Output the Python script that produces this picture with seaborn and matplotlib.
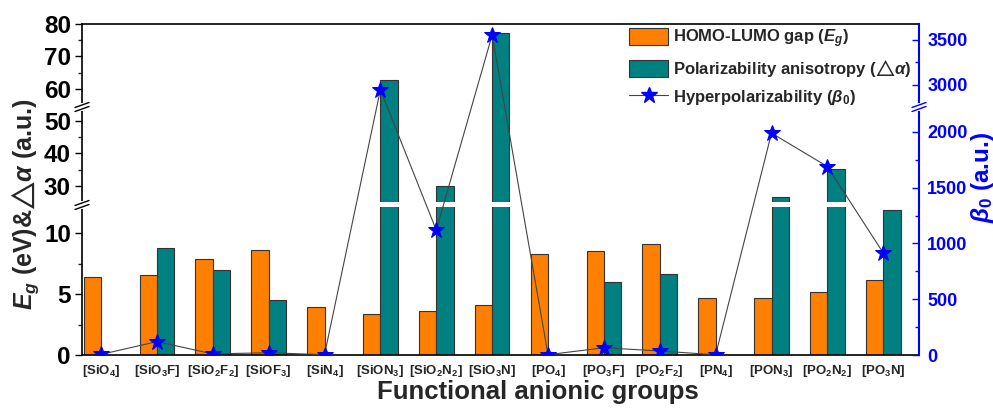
import numpy as np
import pandas as pd
import matplotlib
matplotlib.use('Agg')
import matplotlib.pyplot as plt
from matplotlib.patches import Patch, Rectangle
from matplotlib.lines import Line2D
import seaborn as sns

sns.set_style("ticks")
plt.rcParams['font.family'] = ['Liberation Sans', 'DejaVu Sans']
plt.rcParams['font.weight'] = 'bold'
plt.rcParams['mathtext.fontset'] = 'custom'
plt.rcParams['mathtext.rm'] = 'Liberation Sans:bold'
plt.rcParams['mathtext.it'] = 'Liberation Sans:italic:bold'
plt.rcParams['mathtext.bf'] = 'Liberation Sans:bold'
plt.rcParams['mathtext.fallback'] = 'stixsans'

groups = ['[SiO$_4$]', '[SiO$_3$F]', '[SiO$_2$F$_2$]', '[SiOF$_3$]', '[SiN$_4$]',
          '[SiON$_3$]', '[SiO$_2$N$_2$]', '[SiO$_3$N]', '[PO$_4$]', '[PO$_3$F]',
          '[PO$_2$F$_2$]', '[PN$_4$]', '[PON$_3$]', '[PO$_2$N$_2$]', '[PO$_3$N]']
eg = [6.4, 6.6, 7.9, 8.6, 3.9, 3.4, 3.6, 4.1, 8.25, 8.5, 9.1, 4.7, 4.7, 5.15, 6.15]
dalpha = [np.nan, 8.75, 6.95, 4.5, np.nan, 62.6, 29.8, 77.3, np.nan, 6.0, 6.65,
          np.nan, 26.4, 35.3, 11.85]
beta0 = [5, 120, 10, 20, 3, 2945, 1120, 3555, 3, 65, 36, 2, 1990, 1690, 915]

lab_eg = 'HOMO-LUMO gap ($E_g$)'
lab_da = 'Polarizability anisotropy ($△\\alpha$)'
lab_b = 'Hyperpolarizability ($\\beta_{\\mathit{0}}$)'

orange = '#FF8000'
teal = '#008080'

df = pd.DataFrame({'group': groups * 2,
                   'value': eg + dalpha,
                   'series': [lab_eg] * len(groups) + [lab_da] * len(groups)})


def piecewise(vk, uk):
    vk = np.asarray(vk, float)
    uk = np.asarray(uk, float)

    def make(a, b):
        def f(x):
            x = np.asarray(x, float)
            out = np.interp(x, a, b)
            out = np.where(x < a[0], b[0] + (x - a[0]) * (b[1] - b[0]) / (a[1] - a[0]), out)
            out = np.where(x > a[-1], b[-1] + (x - a[-1]) * (b[-1] - b[-2]) / (a[-1] - a[-2]), out)
            return out
        return f
    return make(vk, uk), make(uk, vk)


# broken axes: bottom / top segments, break is squeezed to nearly nothing
left_fwd, left_inv = piecewise([0, 12.3, 24.15, 80], [0, 150, 150.3, 331])
right_fwd, right_inv = piecewise([0, 2224, 2756, 3678], [0, 248, 248.3, 331])

fig = plt.figure(figsize=(9.93, 4.08), dpi=100)
ax = fig.add_axes([0.0826, 0.1299, 0.8429, 0.8113])

sns.barplot(data=df, x='group', y='value', hue='series', palette=[orange, teal],
            width=0.62, errorbar=None, edgecolor='#333333', linewidth=0.8,
            saturation=1, ax=ax, legend=False)

ax.set_yscale('function', functions=(left_fwd, left_inv))
ax.set_ylim(0, 80)
ax.set_xlim(-0.34, 14.64)
ax.set_yticks([0, 5, 10, 30, 40, 50, 60, 70, 80])
ax.set_yticks([2.5, 7.5, 35, 45, 65, 75], minor=True)
ax.set_yticklabels(['0', '5', '10', '30', '40', '50', '60', '70', '80'])
ax.tick_params(axis='y', which='major', direction='out', length=5, width=1,
               labelsize=17.5, pad=3, colors='black')
ax.tick_params(axis='y', which='minor', direction='out', length=3, width=1)
ax.tick_params(axis='x', length=0, labelsize=9.5, pad=6)
ax.set_xlabel('')
ax.set_ylabel('')
for s in ['left', 'top', 'bottom']:
    ax.spines[s].set_color('black')
    ax.spines[s].set_linewidth(1.2)
ax.spines['right'].set_visible(False)

# white gap through bars at the lower break
ax.add_patch(Rectangle((0, 147.5 / 331), 1, 5 / 331, transform=ax.transAxes,
                       facecolor='white', edgecolor='none', zorder=2))

ax2 = ax.twinx()
sns.lineplot(x=np.arange(len(groups)), y=beta0, ax=ax2, color='#444444',
             linewidth=0.8, marker='*', markersize=12, markerfacecolor='blue',
             markeredgecolor='blue')
ax2.set_yscale('function', functions=(right_fwd, right_inv))
ax2.set_ylim(0, 3678)
ax2.set_yticks([0, 500, 1000, 1500, 2000, 3000, 3500])
ax2.set_yticks([250, 750, 1250, 1750, 3250], minor=True)
ax2.set_yticklabels(['0', '500', '1000', '1500', '2000', '3000', '3500'])
ax2.tick_params(axis='y', which='major', direction='in', length=5, width=1,
                labelsize=13, pad=6, colors='blue')
ax2.tick_params(axis='y', which='minor', direction='in', length=3, width=1, colors='blue')
ax2.set_ylabel('')
for s in ['left', 'top', 'bottom']:
    ax2.spines[s].set_visible(False)
ax2.spines['right'].set_color('blue')
ax2.spines['right'].set_linewidth(1.5)


def brk(a, xf, yf, color):
    dx, dy = 7 / 837, 2.5 / 331
    a.plot([xf, xf], [yf - 2 / 331, yf + 2 / 331], transform=a.transAxes,
           color='white', lw=3, clip_on=False, zorder=6)
    for off in (-2 / 331, 2 / 331):
        a.plot([xf - dx, xf + dx], [yf + off - dy, yf + off + dy], transform=a.transAxes,
               color=color, lw=1, clip_on=False, zorder=7)


brk(ax2, 0, 150 / 331, 'black')
brk(ax2, 0, 248 / 331, 'black')
brk(ax2, 1, 248 / 331, 'blue')

handles = [Patch(facecolor=orange, edgecolor='#333333', linewidth=0.8),
           Patch(facecolor=teal, edgecolor='#333333', linewidth=0.8),
           Line2D([], [], color='#444444', lw=0.8, marker='*', markersize=12,
                  markerfacecolor='blue', markeredgecolor='blue')]
ax2.legend(handles, [lab_eg, lab_da, lab_b], loc='upper left',
           bbox_to_anchor=(0.6535, 0.99), frameon=False,
           prop={'size': 12, 'weight': 'bold', 'family': ['Liberation Sans', 'DejaVu Sans']},
           handlelength=2.35, handleheight=1.14, handletextpad=0.3,
           labelspacing=0.5, borderpad=0, borderaxespad=0)

fig.text(25 / 993, 1 - 204 / 408, '$E_g$ (eV)&$△\\alpha$ (a.u.)', rotation=90,
         ha='center', va='center', fontsize=18, fontweight='bold')
fig.text(982 / 993, 1 - 177 / 408, '$\\beta_{\\mathit{0}}$ (a.u.)', rotation=90,
         ha='center', va='center', fontsize=17.5, fontweight='bold', color='blue')
fig.text(538 / 993, 9 / 408, 'Functional anionic groups', ha='center',
         va='baseline', fontsize=18.5, fontweight='bold')

fig.savefig('out.png', dpi=100)
